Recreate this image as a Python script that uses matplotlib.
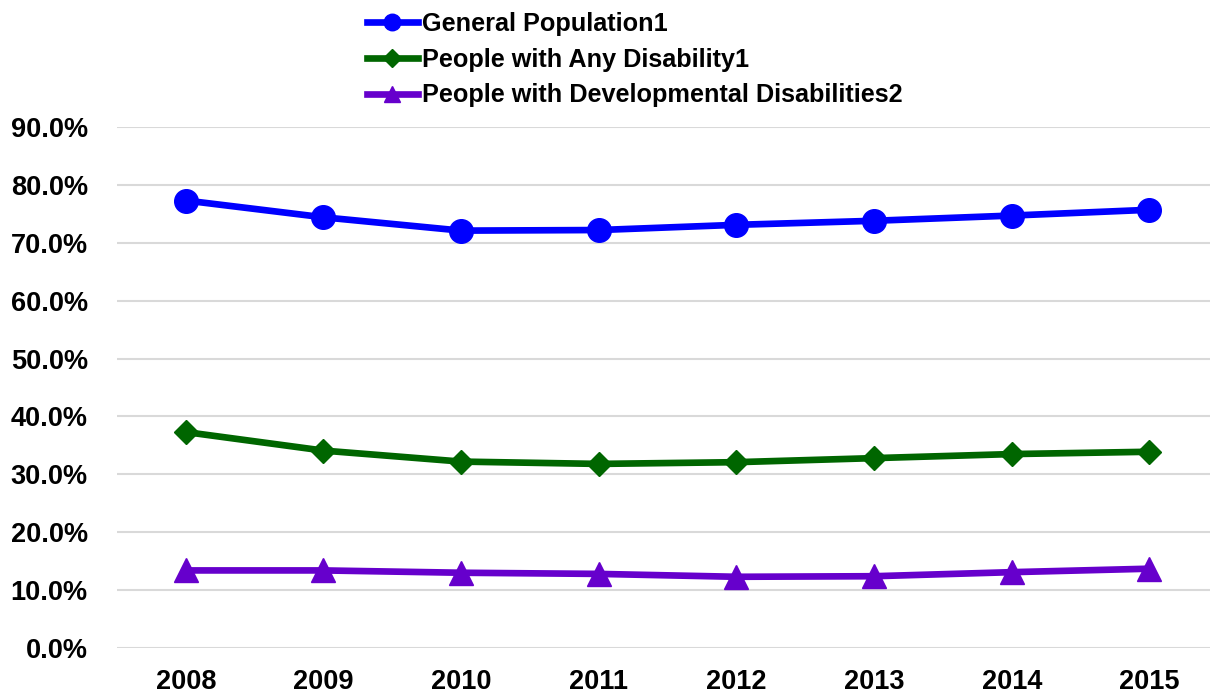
import matplotlib
matplotlib.use("Agg")
import matplotlib.pyplot as plt
from matplotlib.ticker import FuncFormatter

years = ["2008", "2009", "2010", "2011", "2012", "2013", "2014", "2015"]
general_population = [77.3, 74.4, 72.1, 72.2, 73.1, 73.8, 74.7, 75.7]
any_disability = [37.3, 34.1, 32.2, 31.8, 32.1, 32.8, 33.5, 33.9]
developmental = [13.4, 13.4, 13.0, 12.8, 12.3, 12.4, 13.1, 13.7]
series_labels = ["General Population1", "People with Any Disability1",
                 "People with Developmental Disabilities2"]

plt.rcParams['font.family'] = ['Liberation Sans', 'DejaVu Sans']

fig = plt.figure(figsize=(12.1, 6.96), dpi=100)
ax = fig.add_axes([117/1210, 1-648/696, 1-117/1210, (648-127)/696])

x = list(range(len(years)))
ax.plot(x, general_population, color='#0000FF', lw=4.8, marker='o', ms=17,
        label=series_labels[0], zorder=3)
ax.plot(x, any_disability, color='#006600', lw=4.8, marker='D', ms=12.5,
        label=series_labels[1], zorder=3)
ax.plot(x, developmental, color='#6600CC', lw=4.8, marker='^', ms=17,
        label=series_labels[2], zorder=3)

ax.set_ylim(0, 90)
ax.set_xlim(-0.5, 7.44)
ax.set_yticks(range(0, 91, 10))
ax.yaxis.set_major_formatter(FuncFormatter(lambda v, p: f"{v:.1f}%"))
ax.set_xticks(x)
ax.set_xticklabels(years)
ax.grid(axis='y', color='#d9d9d9', lw=1.5)
ax.set_axisbelow(True)
for s in ax.spines.values():
    s.set_visible(False)
ax.tick_params(length=0, labelsize=19.5)
for lab in ax.get_xticklabels() + ax.get_yticklabels():
    lab.set_fontweight('bold')
ax.tick_params(axis='x', pad=15)
ax.tick_params(axis='y', pad=21)

leg = fig.legend(loc='upper left', bbox_to_anchor=(352/1210, 1.005), frameon=False,
                 prop={'size': 18.2, 'weight': 'bold'}, markerscale=0.7,
                 handlelength=2.0, handletextpad=0.15, labelspacing=0.47,
                 borderaxespad=0.2)

fig.savefig("out.png", dpi=100)
